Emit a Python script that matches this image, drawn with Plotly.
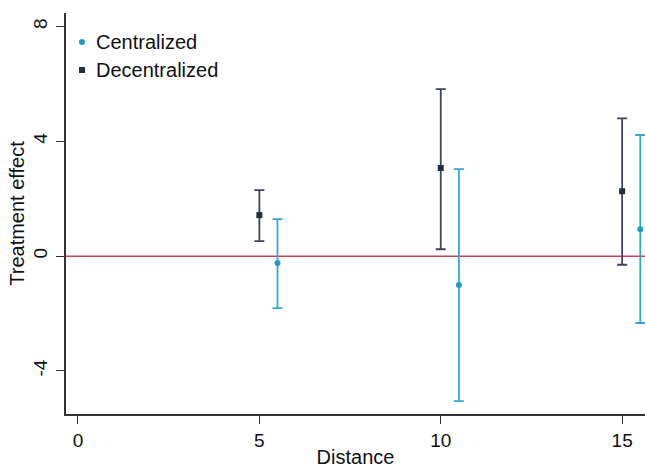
import plotly.graph_objects as go

# Data
dec_x = [5, 10, 15]
dec_y = [1.43, 3.07, 2.26]
dec_hi = [2.30, 5.82, 4.80]
dec_lo = [0.52, 0.24, -0.30]

cen_x = [5.5, 10.5, 15.5]
cen_y = [-0.24, -1.01, 0.94]
cen_hi = [1.29, 3.03, 4.22]
cen_lo = [-1.81, -5.05, -2.33]

x_ticks = [0, 5, 10, 15]
y_ticks = [-4, 0, 4, 8]

DEC_C = "#3c4462"
DEC_M = "#262b45"
CEN_C = "#35a7d3"
CEN_M = "#1f9ccc"
RED = "#d63a55"
FONT = "Liberation Sans"

W, H = 645, 468
L, R, T, B = 66, 0, 13, 54

fig = go.Figure()

fig.add_trace(go.Scatter(
    x=[-0.33, 15.63], y=[0, 0], mode="lines",
    line=dict(color=RED, width=1.5), showlegend=False, hoverinfo="skip"))

fig.add_trace(go.Scatter(
    x=dec_x, y=dec_y, mode="markers", name="Decentralized",
    marker=dict(symbol="square", size=6, color=DEC_M),
    error_y=dict(type="data", symmetric=False,
                 array=[h - y for h, y in zip(dec_hi, dec_y)],
                 arrayminus=[y - l for l, y in zip(dec_lo, dec_y)],
                 color=DEC_C, thickness=1.8, width=5),
    showlegend=False))

fig.add_trace(go.Scatter(
    x=cen_x, y=cen_y, mode="markers", name="Centralized",
    marker=dict(symbol="circle", size=6, color=CEN_M),
    error_y=dict(type="data", symmetric=False,
                 array=[h - y for h, y in zip(cen_hi, cen_y)],
                 arrayminus=[y - l for l, y in zip(cen_lo, cen_y)],
                 color=CEN_C, thickness=1.8, width=5),
    showlegend=False))

pw = W - L - R
ph = H - T - B

def px(xpix):
    return (xpix - L) / pw

def py(ypix):
    return 1 - (ypix - T) / ph

# Manual legend
legend_items = [("Centralized", "circle", CEN_M, 42), ("Decentralized", "square", DEC_M, 70)]
for label, sym, col, yp in legend_items:
    r = 3
    shape_type = "circle" if sym == "circle" else "rect"
    fig.add_shape(type=shape_type, xref="paper", yref="paper",
                  x0=px(82 - r), x1=px(82 + r), y0=py(yp + r), y1=py(yp - r),
                  fillcolor=col, line=dict(width=0))
    fig.add_annotation(x=px(94), y=py(yp), xref="paper", yref="paper",
                       text=label, showarrow=False, xanchor="left", yanchor="middle",
                       font=dict(family=FONT, size=20, color="#111111"))

fig.update_layout(
    width=W, height=H,
    margin=dict(l=L, r=R, t=T, b=B, pad=0),
    paper_bgcolor="white", plot_bgcolor="white",
    font=dict(family=FONT, size=19, color="#111111"),
    showlegend=False,
)
fig.update_xaxes(
    range=[-0.33, 15.63], tickvals=x_ticks, ticktext=[str(v) for v in x_ticks],
    showgrid=False, zeroline=False, showline=True, linecolor="#333333", linewidth=1.5,
    ticks="outside", ticklen=8, tickcolor="#333333", tickwidth=1.2,
    tickfont=dict(size=19),
    title=dict(text="Distance", font=dict(size=20), standoff=0),
)
fig.update_yaxes(
    range=[-5.5, 8.47], tickvals=y_ticks, ticktext=[str(v) for v in y_ticks],
    showgrid=False, zeroline=False, showline=True, linecolor="#333333", linewidth=1.5,
    ticks="outside", ticklen=8, tickcolor="#333333", tickwidth=1.2,
    tickangle=-90, tickfont=dict(size=19), ticklabelstandoff=2,
    title=dict(text="Treatment effect", font=dict(size=20), standoff=0),
)

fig.write_html("out.html")
